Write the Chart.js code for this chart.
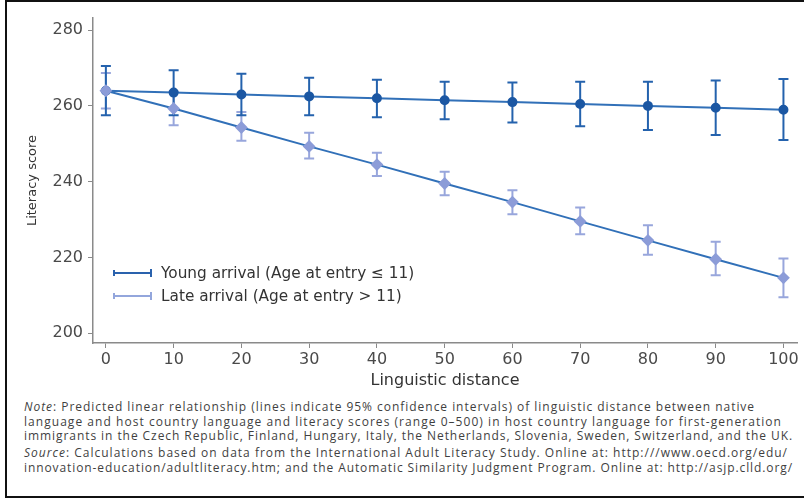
<!DOCTYPE html>
<html>
<head>
<meta charset="utf-8">
<script src="https://cdn.jsdelivr.net/npm/chart.js@4.4.1/dist/chart.umd.min.js"></script>
<style>
  body { margin: 0; background: #fff; width: 804px; height: 503px; overflow: hidden; position: relative; font-family: "DejaVu Sans", sans-serif; }
  #wrap { position: absolute; left: 0; top: 0; width: 804px; height: 392px; }
  #frame { position: absolute; left: 5px; top: 0; width: 810px; height: 494px; border-left: 2px solid #111; border-top: 2px solid #111; border-bottom: 2px solid #111; pointer-events: none; }
  .leg { position: absolute; left: 113px; font-size: 15.3px; color: #333; white-space: nowrap; display: flex; align-items: center; }
  .leg svg { margin-right: 8px; }
  #notes { position: absolute; left: 24px; top: 400px; font-family: "Open Sans", sans-serif; font-size: 12px; color: #3f3f3f; white-space: nowrap; }
  #notes div { height: 14.5px; line-height: 14.5px; }
  #notes .gap { margin-top: 2.5px; }
  #notes span { display: inline-block; }
</style>
</head>
<body>
<div id="wrap"><canvas id="myChart"></canvas></div>
<div class="leg" style="top:264px">
  <svg width="40" height="10"><path d="M1 2V8M1 5H38M38 1V9" stroke="#2a62ad" stroke-width="2" fill="none"/></svg>Young arrival (Age at entry ≤ 11)
</div>
<div class="leg" style="top:287px">
  <svg width="40" height="10"><path d="M1 2V8M1 5H38M38 1V9" stroke="#93a6dc" stroke-width="2" fill="none"/></svg>Late arrival (Age at entry &gt; 11)
</div>
<div id="notes">
  <div><span><i>Note</i>: Predicted linear relationship (lines indicate 95% confidence intervals) of linguistic distance between native</span></div>
  <div><span>language and host country language and literacy scores (range 0–500) in host country language for first-generation</span></div>
  <div><span>immigrants in the Czech Republic, Finland, Hungary, Italy, the Netherlands, Slovenia, Sweden, Switzerland, and the UK.</span></div>
  <div class="gap"><span><i>Source</i>: Calculations based on data from the International Adult Literacy Study. Online at: http:///www.oecd.org/edu/</span></div>
  <div><span>innovation-education/adultliteracy.htm; and the Automatic Similarity Judgment Program. Online at: http://asjp.clld.org/</span></div>
</div>
<div id="frame"></div>
<script>
// values
const distance = [0, 10, 20, 30, 40, 50, 60, 70, 80, 90, 100]
const youngScore = [264, 263.5, 263, 262.5, 262, 261.5, 261, 260.5, 260, 259.5, 259]
const youngLow = [257.5, 257.5, 257.5, 257.5, 257, 256.5, 255.6, 254.6, 253.6, 252.3, 251]
const youngHigh = [270.5, 269.4, 268.5, 267.4, 266.9, 266.4, 266.2, 266.4, 266.4, 266.7, 267.1]
const lateScore = [264, 259.3, 254.3, 249.3, 244.5, 239.5, 234.6, 229.5, 224.5, 219.5, 214.6]
const lateLow = [259.3, 254.9, 250.8, 246.1, 241.5, 236.4, 231.4, 226.1, 220.7, 215.3, 209.5]
const lateHigh = [268.7, 263.7, 258.4, 252.9, 247.6, 242.6, 237.7, 233.2, 228.5, 224.1, 219.7]
const xTicks = [0, 10, 20, 30, 40, 50, 60, 70, 80, 90, 100]
const yTicks = [200, 220, 240, 260, 280]

// the note lines in the original are loosely tracked, stretch each one to its width
const noteWidths = [731, 758, 769, 764, 769]
document.querySelectorAll('#notes span').forEach((el, i) => {
    const n = el.textContent.length
    const extra = (noteWidths[i] - el.getBoundingClientRect().width) / n
    el.style.letterSpacing = extra.toFixed(3) + 'px'
})

const axisGrey = '#8a8a8a'
const tickFont = {family: 'DejaVu Sans', size: 16}

// draws the confidence interval bars behind the lines and markers
const errorBars = {
    id: 'errorBars',
    beforeDatasetsDraw(chart) {
        const ctx = chart.ctx
        const x = chart.scales.x
        const y = chart.scales.y
        chart.data.datasets.forEach((ds) => {
            ctx.save()
            ctx.strokeStyle = ds.barColor
            ctx.lineWidth = 2
            for (let i = 0; i < ds.data.length; i++) {
                const px = x.getPixelForValue(ds.data[i].x)
                const lo = y.getPixelForValue(ds.low[i])
                const hi = y.getPixelForValue(ds.high[i])
                ctx.beginPath()
                ctx.moveTo(px, lo); ctx.lineTo(px, hi)
                ctx.moveTo(px - 5, lo); ctx.lineTo(px + 5, lo)
                ctx.moveTo(px - 5, hi); ctx.lineTo(px + 5, hi)
                ctx.stroke()
            }
            ctx.restore()
        })
    }
}

new Chart('myChart', {
    type: 'line',
    data: {
        datasets: [{
            label: 'Late arrival (Age at entry > 11)',
            data: distance.map((d, i) => ({x: d, y: lateScore[i]})),
            low: lateLow,
            high: lateHigh,
            barColor: '#98a6dc',
            borderColor: '#3170b8',
            borderWidth: 2,
            pointStyle: 'rectRot',
            pointRadius: 5,
            pointBackgroundColor: '#8c9cd8',
            pointBorderColor: '#8c9cd8',
            order: 0
        }, {
            label: 'Young arrival (Age at entry ≤ 11)',
            data: distance.map((d, i) => ({x: d, y: youngScore[i]})),
            low: youngLow,
            high: youngHigh,
            barColor: '#2462ad',
            borderColor: '#3170b8',
            borderWidth: 2,
            pointStyle: 'circle',
            pointRadius: 4,
            pointBackgroundColor: '#1b57a3',
            pointBorderColor: '#1b57a3',
            order: 1
        }]
    },
    options: {
        responsive: true,
        maintainAspectRatio: false,
        animation: false,
        layout: {padding: {left: 0, right: 7, top: 18, bottom: 0}},
        plugins: {legend: {display: false}, tooltip: {enabled: false}},
        scales: {
            x: {
                type: 'linear',
                min: -1.9,
                max: 102,
                afterBuildTicks: (s) => { s.ticks = xTicks.map((v) => ({value: v})) },
                afterFit: (s) => { s.height = 49 },
                grid: {drawOnChartArea: false, drawTicks: true, tickLength: 5, color: axisGrey},
                border: {display: true, color: axisGrey, width: 1.5},
                ticks: {font: tickFont, color: '#4a4a4a', padding: 2, maxRotation: 0},
                title: {display: true, text: 'Linguistic distance', font: {family: 'DejaVu Sans', size: 16}, color: '#333', padding: {top: 0, bottom: 2}}
            },
            y: {
                min: 197.4,
                max: 283.2,
                afterBuildTicks: (s) => { s.ticks = yTicks.map((v) => ({value: v})) },
                afterFit: (s) => { s.width = 93 },
                grid: {drawOnChartArea: false, drawTicks: true, tickLength: 5, color: axisGrey},
                border: {display: true, color: axisGrey, width: 1.5},
                ticks: {font: tickFont, color: '#4a4a4a', padding: 5},
                title: {display: true, text: 'Literacy score', font: {family: 'DejaVu Sans', size: 13}, color: '#333', padding: {top: 25, bottom: 0}}
            }
        }
    },
    plugins: [errorBars]
})
</script>
</body>
</html>
